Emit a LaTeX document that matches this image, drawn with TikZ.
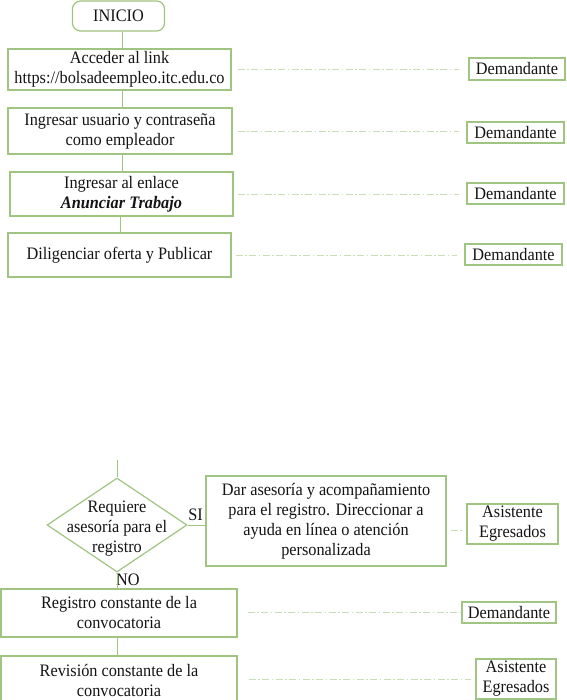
\documentclass[tikz,border=0pt]{standalone}
\usepackage{fontspec}
\setmainfont{Liberation Serif}
\newfontfamily\diagfont[FakeStretch=0.93]{Liberation Serif}
\usetikzlibrary{shapes.geometric}
\definecolor{boxgreen}{RGB}{160,196,130}
\definecolor{dashgreen}{RGB}{200,222,180}
\definecolor{txt}{RGB}{20,20,20}
\tikzset{
  every node/.style={text=txt, font=\diagfont\fontsize{17.5}{20}\selectfont},
  procbox/.style={draw=boxgreen, line width=1.2pt, align=center, inner sep=0pt, fill=white},
  rolebox/.style={draw=boxgreen, line width=1.2pt, align=center, inner sep=0pt, fill=white},
  conn/.style={draw=boxgreen, line width=1pt},
  dashline/.style={draw=dashgreen, line width=0.9pt, dash pattern=on 7pt off 2.5pt on 1.5pt off 2.5pt},
  lbl/.style={inner sep=0pt}
}
\begin{document}
\begin{tikzpicture}[x=1pt,y=1pt]
\clip (0,0) rectangle (566,-700);
\fill[white] (0,0) rectangle (566,-700);

% top flow
\node[procbox, rounded corners=8pt, minimum width=92pt, minimum height=30pt] (inicio) at (118.5,-16) {INICIO};
\node[procbox, minimum width=223pt, minimum height=41pt] (b1) at (119.5,-69.5) {Acceder al link\\https://bolsadeempleo.itc.edu.co};
\node[procbox, minimum width=224pt, minimum height=46pt] (b2) at (120,-131) {Ingresar usuario y contraseña\\como empleador};
\node[procbox, minimum width=223pt, minimum height=44pt] (b3) at (121.5,-194) {Ingresar al enlace\\\textbf{\textit{Anunciar Trabajo}}};
\node[procbox, minimum width=223pt, minimum height=44pt] (b4) at (119.5,-255) {Diligenciar oferta y Publicar};

\node[rolebox, minimum width=96pt, minimum height=22pt] (d1) at (517,-69) {Demandante};
\node[rolebox, minimum width=97pt, minimum height=21pt] (d2) at (515.5,-132.5) {Demandante};
\node[rolebox, minimum width=97pt, minimum height=21pt] (d3) at (515.5,-193.5) {Demandante};
\node[rolebox, minimum width=97pt, minimum height=21pt] (d4) at (513.5,-254.5) {Demandante};

\draw[conn] ([xshift=3.5pt]inicio.south) -- ([xshift=3.5pt]inicio.south |- b1.north);
\draw[conn] ([xshift=2.5pt]b1.south) -- ([xshift=2.5pt]b1.south |- b2.north);
\draw[conn] ([xshift=2.5pt]b2.south) -- ([xshift=2.5pt]b2.south |- b3.north);
\draw[conn] ([xshift=-1.5pt]b3.south) -- ([xshift=-1.5pt]b3.south |- b4.north);

\draw[dashline] ([xshift=6pt]b1.east) -- ([xshift=-9pt]d1.west |- b1.east);
\draw[dashline] ([xshift=5pt]b2.east) -- ([xshift=-7pt]d2.west |- b2.east);
\draw[dashline] ([xshift=4pt]b3.east) -- ([xshift=-7pt]d3.west |- b3.east);
\draw[dashline] ([xshift=4pt]b4.east) -- ([xshift=-7pt]d4.west |- b4.east);

% bottom flow
\coordinate (top) at (117,-460);
\node[procbox, shape=diamond, minimum width=140pt, minimum height=94pt] (q) at (117,-525) {};
\node[lbl, align=center] (qt) at (117,-529) {Requiere\\asesoría para el\\registro};
\node[procbox, minimum width=240pt, minimum height=90pt] (dar) at (326,-521) {Dar asesoría y acompañamiento\\para el registro. Direccionar a\\ayuda en línea o atención\\personalizada};
\node[rolebox, minimum width=91pt, minimum height=40pt] (ae1) at (512.5,-524) {Asistente\\Egresados};
\node[lbl] (si) at (195.5,-515) {SI};
\node[lbl, anchor=west] (no) at (116,-580) {NO};

\node[procbox, minimum width=236pt, minimum height=48pt] (reg) at (119,-613) {Registro constante de la\\convocatoria};
\node[procbox, minimum width=236pt, minimum height=48pt] (rev) at (119,-680) {Revisión constante de la\\convocatoria};
\node[rolebox, minimum width=94pt, minimum height=21pt] (d5) at (509,-612.5) {Demandante};
\node[rolebox, minimum width=80pt, minimum height=40pt] (ae2) at (516,-679) {Asistente\\Egresados};

\draw[conn] (top) -- (q.north);
\draw[conn] (q.east) -- (dar.west |- q.east);
\draw[conn] (q.south) -- (q.south |- reg.north);
\draw[conn] (reg.south -| q.south) -- (rev.north -| q.south);

\draw[dashline] ([shift={(4pt,-9pt)}]dar.east) -- ([shift={(-4pt,-6pt)}]ae1.west);
\draw[dashline] ([xshift=10pt]reg.east |- d5.west) -- (d5.west);
\draw[dashline] ([xshift=11pt]rev.east |- ae2.west) -- ([xshift=-4pt]ae2.west);
\end{tikzpicture}
\end{document}
